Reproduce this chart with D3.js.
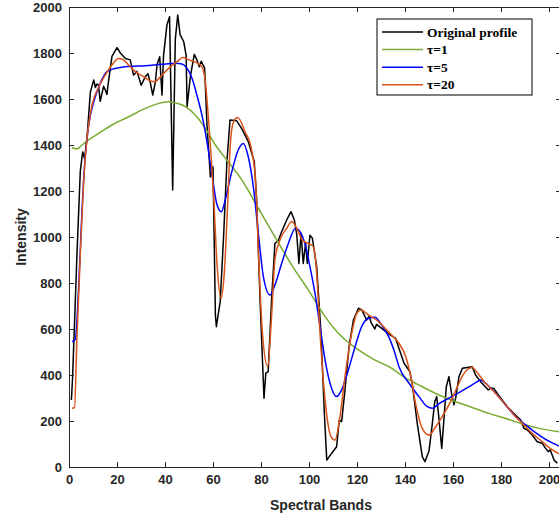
<!DOCTYPE html>
<html>
<head>
<meta charset="utf-8">
<script src="https://cdn.jsdelivr.net/npm/d3@7"></script>
<style>
  body { margin: 0; background: #fff; }
  .axis text { font-family: Arial, "Liberation Sans", sans-serif; font-weight: bold; font-size: 13px; fill: #262626; }
  .axis path, .axis line { stroke: #262626; }
</style>
</head>
<body>
<div id="chart"></div>
<script>
var svgWidth = 559;
var svgHeight = 521;

var margin = { top: 7, right: -2, bottom: 54, left: 69 };
var chartWidth = svgWidth - margin.left - margin.right;
var chartHeight = svgHeight - margin.top - margin.bottom;

// ---- data ----
var xTicks = [0, 20, 40, 60, 80, 100, 120, 140, 160, 180, 200];
var yTicks = [0, 200, 400, 600, 800, 1000, 1200, 1400, 1600, 1800, 2000];

var origBands = [1, 1.5, 3.3, 4.7, 5.7, 6.5, 7.5, 8.9, 10.3, 11, 11.6, 12.3, 13, 14.4, 15.1, 15.8, 16.5, 17.9, 20, 21.4,
  23.5, 25.5, 26.9, 28.3, 30.1, 31.8, 32.9, 33.9, 34.9, 36, 36.7, 37.8, 38.75, 39.4, 40.8, 41.9, 43.2, 44.3, 45.3, 46.3,
  47.8, 48.8, 49.2, 50.6, 52.2, 53.3, 54.3, 55.1, 56.5, 57.5, 58.9, 60, 61, 61.4, 63, 64.4, 65.8, 67.1, 69.9, 71.9,
  74.7, 77.2, 78.2, 79.6, 81.25, 82, 83, 84.4, 85.8, 87.2, 88.6, 90.7, 92.5, 93.9, 94.9, 95.8, 96.7, 97.6, 98.6, 99.3,
  100.4, 101.4, 103.2, 105, 106.4, 107.4, 109.4, 111.5, 112.6, 113.6, 115, 116.7, 118.5, 120.6, 122, 124, 125, 126, 127.4, 128.1,
  130.3, 133, 136.1, 139.6, 142, 143, 145.1, 147.2, 148.3, 150, 151.4, 152.4, 153.2, 154.2, 155.3, 156.3, 157.2, 158.3, 159.4, 160.4,
  161.1, 162.5, 163.9, 166, 168, 169.4, 171.5, 173.5, 174.7, 175.7, 177, 179.9, 182.6, 185.4, 188.2, 189.6, 191, 193, 195.1, 197.2,
  198.6, 199.7, 200.5, 202.1, 203.5];
var origValues = [291, 390, 920, 1285, 1370, 1340, 1430, 1630, 1683, 1650, 1665, 1660, 1590, 1655, 1640, 1620, 1680, 1785, 1823, 1800,
  1776, 1770, 1704, 1720, 1660, 1697, 1710, 1670, 1617, 1675, 1750, 1784, 1617, 1790, 1922, 1958, 1204, 1860, 1965, 1880,
  1849, 1790, 1567, 1700, 1794, 1770, 1740, 1764, 1735, 1487, 1262, 1305, 661, 610, 719, 1000, 1327, 1509, 1505, 1472,
  1415, 1327, 1161, 726, 299, 408, 415, 726, 972, 985, 1023, 1074, 1110, 1074, 1010, 885, 1016, 885, 975, 885,
  1008, 995, 871, 581, 233, 30, 59, 88, 204, 197, 335, 523, 639, 690, 683, 639, 655, 626, 600, 620,
  603, 580, 559, 451, 415, 364, 190, 45, 23, 70, 190, 284, 306, 205, 81, 219, 349, 393, 320, 270,
  299, 393, 429, 433, 436, 400, 371, 349, 335, 342, 342, 299, 262, 233, 204, 168, 161, 139, 110, 103,
  81, 67, 75, 30, 16];

var tau1Bands = [1.25, 3.3, 5.4, 8.2, 12.4, 17.9, 24.9, 31.8, 37.4, 41.5, 45, 48.5, 52.6, 56.8, 61, 65, 72, 78.9, 85.8, 92.8,
  99.7, 106.7, 113.6, 120.6, 127.5, 133.3, 140.3, 147.2, 154.2, 161.1, 168, 175, 182, 188.9, 195.8, 204.2];
var tau1Values = [1388, 1383, 1400, 1422, 1451, 1487, 1523, 1559, 1581, 1588, 1581, 1567, 1530, 1472, 1400, 1345, 1248, 1125, 1001, 878,
  770, 654, 567, 509, 465, 436, 386, 349, 313, 284, 259, 233, 211, 187, 168, 153];

var tau5Bands = [1.25, 2.6, 4, 5.4, 6.8, 8.2, 10.3, 13, 15.8, 19.2, 23.5, 31.8, 38.75, 44.3, 47.1, 49.2, 51.25, 53.3, 55.4, 57.5,
  59.6, 61.7, 63.5, 65, 67.5, 70.5, 72.6, 74.7, 76.8, 78.9, 81, 83.75, 85.8, 88.6, 91.4, 94.4, 96.25, 98.3, 100.4, 102.5,
  104.6, 106.7, 109.2, 111.5, 113.6, 116.4, 119.2, 121.9, 124.7, 127.5, 130.3, 133.2, 135.8, 137.5, 141.7, 145.8, 149.3, 151.4, 154.2, 158.3,
  162.5, 166.7, 170.1, 171.5, 173.6, 177.1, 181.9, 186.1, 190.3, 194.4, 198.6, 204.2];
var tau5Values = [545, 555, 777, 1110, 1357, 1487, 1588, 1668, 1719, 1733, 1740, 1745, 1751, 1755, 1752, 1733, 1690, 1617, 1530, 1414,
  1270, 1139, 1110, 1157, 1270, 1378, 1407, 1349, 1219, 1016, 827, 748, 791, 885, 972, 1038, 1023, 972, 871, 755,
  610, 465, 349, 306, 335, 422, 523, 610, 646, 651, 617, 567, 495, 436, 364, 306, 262, 255, 276, 299,
  323, 349, 371, 378, 364, 328, 270, 219, 183, 149, 120, 91];

var tau20Bands = [1.25, 2.3, 3.3, 4.7, 6.1, 7.5, 9.6, 12.4, 15.1, 17.9, 20.7, 22, 24.8, 27.6, 31.1, 33.9, 35.7, 38.1, 41.5, 45,
  47.4, 49.9, 52.7, 55.4, 56.8, 58.2, 60.3, 61.7, 63.3, 64.7, 66.1, 67.2, 68.5, 70.3, 73.3, 76.1, 77.8, 78.9, 80.6, 82.8,
  84.4, 85.8, 87.9, 90.7, 92.8, 94.9, 97.2, 99.7, 101.8, 103.2, 104.6, 106.7, 109.2, 110.8, 112.9, 115, 117.8, 119.9, 121.7, 124.7,
  128.2, 131.7, 134.4, 137.5, 140.3, 142.4, 144.4, 147.2, 150, 152.8, 156.3, 159, 161.8, 164.6, 166.7, 168, 169.7, 173.6, 177.8, 181.9,
  186.1, 188.9, 193, 197.2, 201.4, 204.2];
var tau20Values = [255, 258, 561, 922, 1241, 1430, 1574, 1652, 1704, 1748, 1776, 1774, 1748, 1719, 1697, 1678, 1675, 1697, 1733, 1762,
  1780, 1770, 1760, 1740, 1675, 1501, 1168, 878, 733, 843, 1139, 1400, 1500, 1520, 1459, 1378, 1233, 943, 581, 436,
  654, 900, 987, 1038, 1067, 1038, 987, 972, 958, 842, 581, 291, 132, 117, 219, 393, 581, 668, 683, 661,
  639, 603, 574, 538, 480, 393, 277, 168, 139, 175, 233, 284, 349, 407, 429, 433, 415, 364, 320, 270,
  219, 190, 146, 110, 74, 57];

var seriesNames = ["Original profile", "\u03c4=1", "\u03c4=5", "\u03c4=20"];
var seriesColors = ["#000000", "#77AC30", "#0000FF", "#D95319"];

function zip(bands, values) {
  return bands.map(function(b, i) { return { band: b, value: values[i] }; });
}

var series = [
  { name: seriesNames[0], color: seriesColors[0], data: zip(origBands, origValues), smooth: false },
  { name: seriesNames[1], color: seriesColors[1], data: zip(tau1Bands, tau1Values), smooth: true },
  { name: seriesNames[2], color: seriesColors[2], data: zip(tau5Bands, tau5Values), smooth: true },
  { name: seriesNames[3], color: seriesColors[3], data: zip(tau20Bands, tau20Values), smooth: true }
];

// ---- svg ----
var svg = d3.select("#chart")
  .append("svg")
  .attr("width", svgWidth)
  .attr("height", svgHeight);

var chartGroup = svg.append("g")
  .attr("transform", `translate(${margin.left}, ${margin.top})`);

var xScale = d3.scaleLinear()
  .domain([0, 205])
  .range([0, chartWidth]);

var yScale = d3.scaleLinear()
  .domain([0, 2000])
  .range([chartHeight, 0]);

chartGroup.append("clipPath")
  .attr("id", "plotClip")
  .append("rect")
  .attr("width", chartWidth)
  .attr("height", chartHeight);

// lines
var linesGroup = chartGroup.append("g").attr("clip-path", "url(#plotClip)");

series.forEach(function(s) {
  var line = d3.line()
    .x(d => xScale(d.band))
    .y(d => yScale(d.value))
    .curve(s.smooth ? d3.curveMonotoneX : d3.curveLinear);
  linesGroup.append("path")
    .datum(s.data)
    .attr("fill", "none")
    .attr("stroke", s.color)
    .attr("stroke-width", 1.5)
    .attr("stroke-linejoin", "round")
    .attr("d", line);
});

// axes, ticks pointing inward
var fmt = d3.format("d");

chartGroup.append("g")
  .attr("class", "axis")
  .attr("transform", `translate(0, ${chartHeight})`)
  .call(d3.axisBottom(xScale).tickValues(xTicks).tickFormat(fmt).tickSizeInner(-5).tickSizeOuter(0).tickPadding(8));

chartGroup.append("g")
  .attr("class", "axis")
  .call(d3.axisLeft(yScale).tickValues(yTicks).tickFormat(fmt).tickSizeInner(-5).tickSizeOuter(0).tickPadding(7));

chartGroup.append("g")
  .attr("class", "axis")
  .call(d3.axisTop(xScale).tickValues(xTicks).tickSizeInner(-5).tickSizeOuter(0).tickFormat(""));

chartGroup.append("g")
  .attr("class", "axis")
  .attr("transform", `translate(${chartWidth}, 0)`)
  .call(d3.axisRight(yScale).tickValues(yTicks).tickSizeInner(-5).tickSizeOuter(0).tickFormat(""));

// axis titles
svg.append("text")
  .attr("x", margin.left + xScale(105))
  .attr("y", 510)
  .attr("text-anchor", "middle")
  .style("font-family", "Arial, 'Liberation Sans', sans-serif")
  .style("font-weight", "bold")
  .style("font-size", "14px")
  .style("fill", "#262626")
  .text("Spectral Bands");

svg.append("text")
  .attr("transform", `translate(26, ${margin.top + chartHeight / 2}) rotate(-90)`)
  .attr("text-anchor", "middle")
  .style("font-family", "Arial, 'Liberation Sans', sans-serif")
  .style("font-weight", "bold")
  .style("font-size", "14px")
  .style("fill", "#262626")
  .text("Intensity");

// legend
var legend = svg.append("g").attr("transform", "translate(377, 19)");

legend.append("rect")
  .attr("width", 155)
  .attr("height", 76)
  .attr("fill", "#fff")
  .attr("stroke", "#000")
  .attr("stroke-width", 1);

var rows = legend.selectAll(".legend-row")
  .data(series)
  .enter()
  .append("g")
  .attr("class", "legend-row")
  .attr("transform", (d, i) => `translate(0, ${13 + i * 17.6})`);

rows.append("line")
  .attr("x1", 5)
  .attr("x2", 46)
  .attr("stroke", d => d.color)
  .attr("stroke-width", 1.5);

rows.append("text")
  .attr("x", 50)
  .attr("y", 4.5)
  .style("font-family", "'Liberation Serif', 'Times New Roman', serif")
  .style("font-weight", "bold")
  .style("font-size", "13.5px")
  .style("fill", "#000")
  .text(d => d.name);
</script>
</body>
</html>
